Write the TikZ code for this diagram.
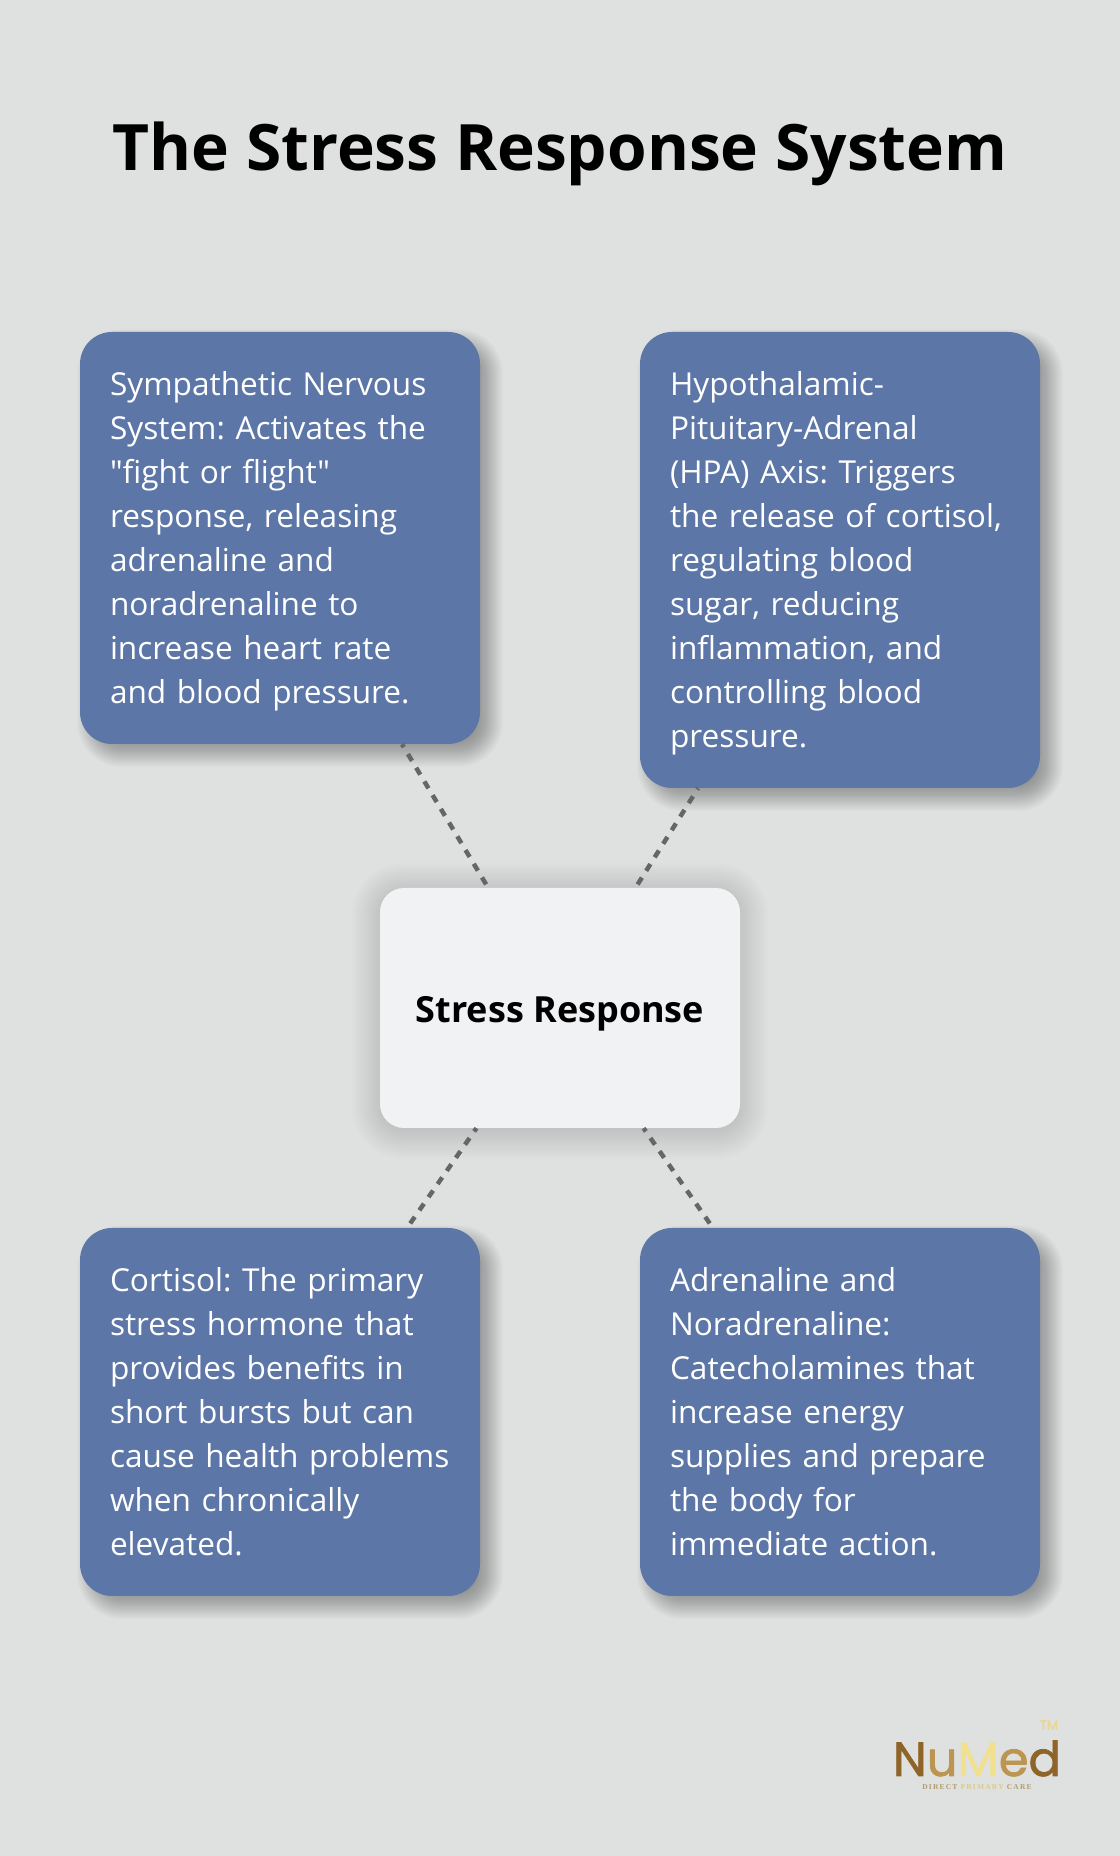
\documentclass[tikz,border=0pt]{standalone}
\usepackage{fontspec}
\newfontfamily\bodyfont{Open Sans}
\newfontfamily\logofont[FakeBold=1.5]{Poppins}
\newfontfamily\logotag[LetterSpace=16]{Liberation Serif}
\usetikzlibrary{backgrounds}
\definecolor{pagebg}{HTML}{DFE1E0}
\definecolor{cardblue}{HTML}{5C76A7}
\definecolor{hubgrey}{HTML}{F0F2F4}
\definecolor{linkgrey}{HTML}{666666}
\definecolor{golddark}{HTML}{8F6428}
\definecolor{goldmid}{HTML}{BC9650}
\definecolor{goldlight}{HTML}{F1E08F}
\definecolor{goldpale}{HTML}{EBD68A}
\definecolor{goldtag}{HTML}{B49A6C}
\definecolor{goldtagpale}{HTML}{DCC98C}
\tikzset{
  card/.style={draw=none,fill=cardblue,text=white,rounded corners=32bp,inner xsep=30bp,inner ysep=10bp,
    text width=340bp,align=left,font=\bodyfont\frenchspacing\fontsize{31.6bp}{44bp}\selectfont,
    execute at begin node={\rule{0pt}{37.2bp}},execute at end node={\strut}},
  hub/.style={draw=none,fill=hubgrey,text=black,rounded corners=24bp,minimum width=360bp,
    minimum height=240bp,text height=32bp,text depth=2bp,inner sep=0bp,
    font=\bodyfont\fontsize{36bp}{44bp}\selectfont\bfseries},
  link/.style={draw=linkgrey,line width=4.5bp,dash pattern=on 8bp off 8bp},
}
% node, dx, dy, blur, opacity of one layer, corner radius
\newcommand{\softshadow}[6]{
  \foreach \layer in {0,...,27}{
    \pgfmathsetmacro{\grow}{#4*(1-\layer/13.5)}
    \pgfmathsetmacro{\bend}{max(#6+\grow,1)}
    \fill [black,opacity=#5,rounded corners=\bend bp]
      ([shift={(#2bp-\grow bp,#3bp-\grow bp)}]#1.south west) rectangle
      ([shift={(#2bp+\grow bp,#3bp+\grow bp)}]#1.north east);
  }
}
\begin{document}
\begin{tikzpicture}
  \useasboundingbox (0bp,0bp) rectangle (1120bp,1856bp);
  \node (Title) at (560bp,1702bp) [font=\bodyfont\fontsize{64bp}{72bp}\selectfont\bfseries] {The Stress Response System};
  \node (Sns) at (280bp,1318bp) [card,minimum height=412bp] {Sympathetic Nervous\\System: Activates the\\"fight or flight"\\response, releasing\\adrenaline and\\noradrenaline to\\increase heart rate\\and blood pressure.};
  \node (Hpa) at (840bp,1296bp) [card,minimum height=456bp] {Hypothalamic-\\Pituitary-Adrenal\\(HPA) Axis: Triggers\\the release of cortisol,\\regulating blood\\sugar, reducing\\inflammation, and\\controlling blood\\pressure.};
  \node (Hub) at (560bp,848bp) [hub] {Stress Response};
  \node (Cortisol) at (280bp,444bp) [card,minimum height=368bp] {Cortisol: The primary\\stress hormone that\\provides benefits in\\short bursts but can\\\mbox{cause health problems}\\when chronically\\elevated.};
  \node (Adren) at (840bp,444bp) [card,minimum height=368bp] {Adrenaline and\\Noradrenaline:\\Catecholamines that\\increase energy\\supplies and prepare\\the body for\\immediate action.};
  \draw [link,dash phase=12bp] (Hub) -- (Sns);
  \draw [link,dash phase=12bp] (Hub) -- (Hpa);
  \draw [link,dash phase=4bp] (Hub) -- (Cortisol);
  \draw [link,dash phase=4bp] (Hub) -- (Adren);
  \node (LogoWord) at (977bp,80bp) [anchor=base,font=\logofont\fontsize{48bp}{60bp}\selectfont,inner sep=0bp] {\textcolor{golddark}{N}\textcolor{goldmid}{u}\textcolor{goldlight}{M}\textcolor{goldmid}{e}\textcolor{golddark}{d}};
  \node (LogoTm) at (1049bp,131bp) [font=\logofont\fontsize{13bp}{14bp}\selectfont,text=goldpale,inner sep=0bp] {TM};
  \node (LogoTag) at (977bp,69bp) [font=\logotag\fontsize{7.5bp}{9bp}\selectfont\bfseries,inner sep=0bp] {\textcolor{goldtag}{DIRECT} \textcolor{goldtagpale}{PRIMARY} \textcolor{goldtag}{CARE}};
  \begin{scope}[on background layer]
    \fill [pagebg] (0bp,0bp) rectangle (1120bp,1856bp);
    \softshadow{Sns}{10}{-10}{13}{0.0125}{32}
    \softshadow{Hpa}{10}{-10}{13}{0.0125}{32}
    \softshadow{Cortisol}{10}{-10}{13}{0.0125}{32}
    \softshadow{Adren}{10}{-10}{13}{0.0125}{32}
    \softshadow{Hub}{0}{-3}{28}{0.0095}{24}
  \end{scope}
\end{tikzpicture}
\end{document}
